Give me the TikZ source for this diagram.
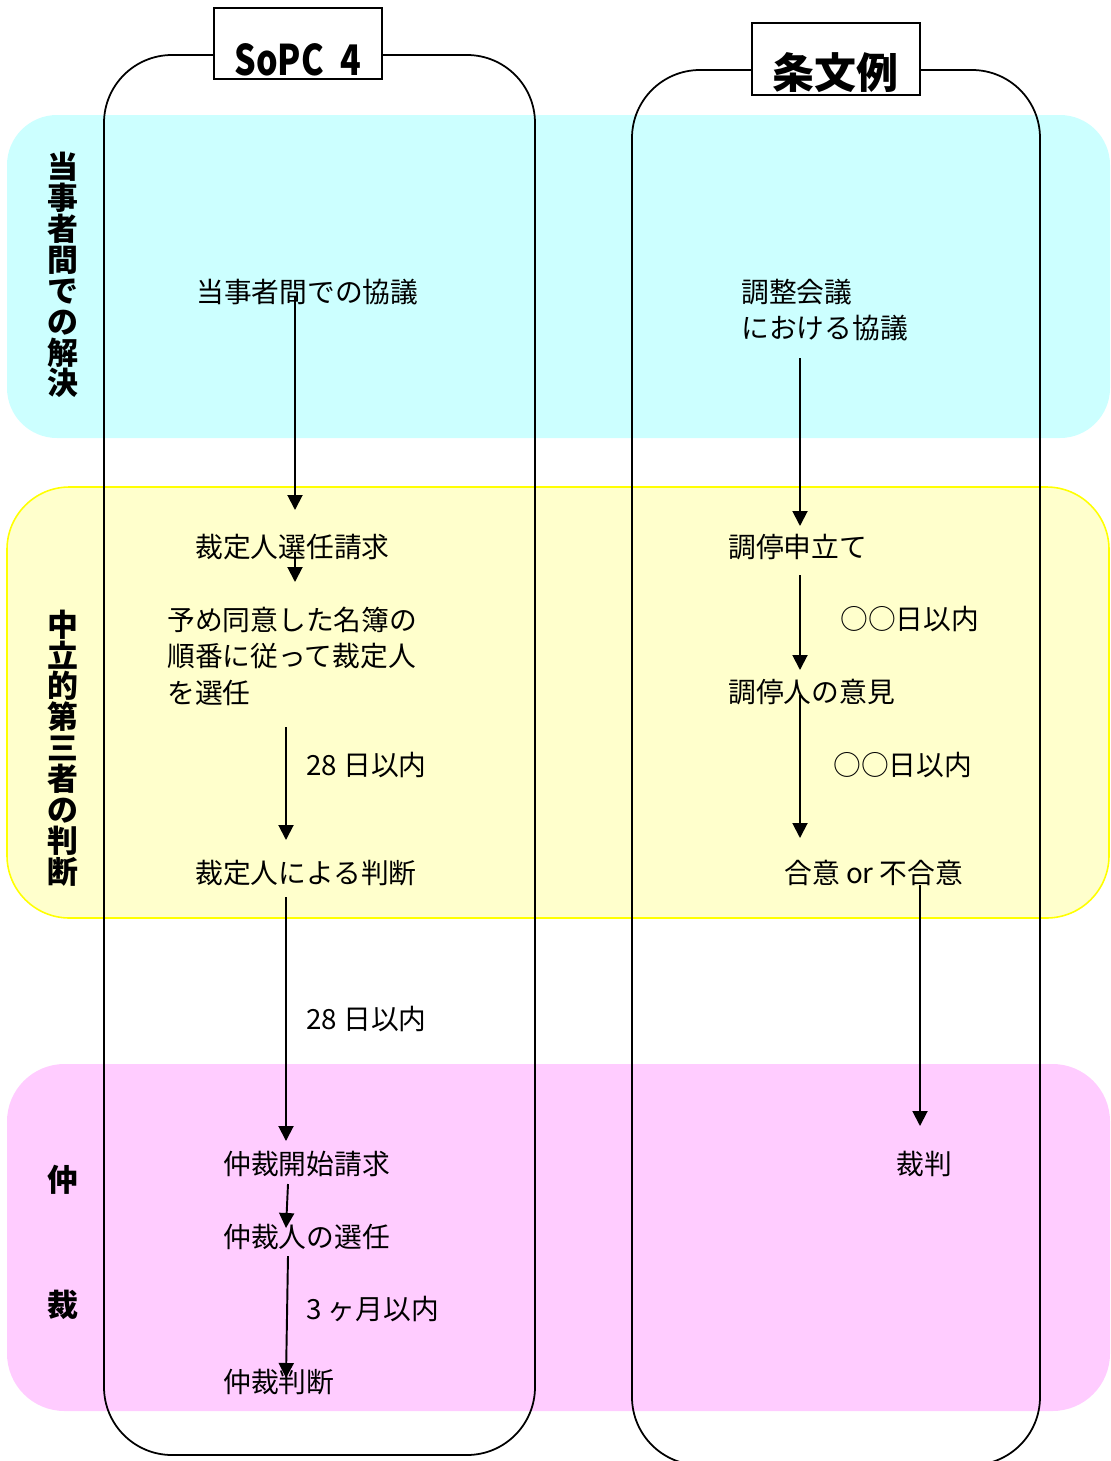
\documentclass[tikz,border=0pt]{standalone}
\usepackage{fontspec}
\setmainfont{Noto Sans CJK JP}
\usetikzlibrary{arrows.meta,calc}
\definecolor{bandcyan}{HTML}{CCFFFF}
\definecolor{bandyellow}{HTML}{FFFFCC}
\definecolor{edgeyellow}{HTML}{FFFF00}
\definecolor{bandpink}{HTML}{FFCCFF}
\begin{document}
\begin{tikzpicture}[x=0.02cm,y=-0.02cm,
  txt/.style={anchor=west,inner sep=0pt,font=\fontsize{15.8pt}{20.8pt}\selectfont,align=left},
  side/.style={inner sep=0pt,font=\bfseries\fontsize{17.6pt}{17.6pt}\selectfont,align=center},
  arr/.style={line width=1.1pt,-{Triangle[length=0.3cm,width=0.3cm]}},
  lane/.style={line width=1pt,rounded corners=1.36cm},
  titlebox/.style={draw,line width=1pt,fill=white,inner sep=0pt,minimum width=3.36cm}]
\clip (0,0) rectangle (1110,1461);
\useasboundingbox (0,0) rectangle (1110,1461);
% bands
\fill[bandcyan,rounded corners=1.0cm] (7,115) rectangle (1110,438);
\filldraw[fill=bandyellow,draw=edgeyellow,line width=0.9pt,rounded corners=1.25cm] (7,487) rectangle (1109,918);
\fill[bandpink,rounded corners=1.15cm] (7,1064) rectangle (1110,1411);
% lanes
\draw[lane] (104,55) rectangle (535,1455);
\draw[lane] (632,70) rectangle (1040,1465);
% titles
\node[titlebox,minimum height=1.42cm] (t1box) at (298,43.5) {};
\node[inner sep=0pt] (t1) at (298,60) {\resizebox{72.3pt}{18.2pt}{\fontsize{28pt}{28pt}\selectfont\bfseries SoPC\hspace{0.5em}4}};
\node[titlebox,minimum height=1.44cm] (t2box) at (836,59) {};
\node[inner sep=0pt,font=\bfseries\fontsize{23.9pt}{23.9pt}\selectfont] (t2) at (835,73) {条文例};
% side labels
\node[side] (s1) at (63,275) {当\\事\\者\\間\\で\\の\\解\\決};
\node[side] (s2) at (63,748) {中\\立\\的\\第\\三\\者\\の\\判\\断};
\node[side] (s3) at (63,1180) {仲};
\node[side] (s4) at (63,1305) {裁};
% left column
\node[txt] (n1) at (196,292) {当事者間での協議};
\node[txt] (n2) at (195,547) {裁定人選任請求};
\node[txt] (n3) at (167,656) {予め同意した名簿の\\順番に従って裁定人\\を選任};
\node[txt] (l1) at (306,765) {28 日以内};
\node[txt] (n4) at (195,873) {裁定人による判断};
\node[txt] (l2) at (306,1019) {28 日以内};
\node[txt] (n5) at (223,1164) {仲裁開始請求};
\node[txt] (n6) at (223,1237) {仲裁人の選任};
\node[txt] (l3) at (306,1309) {3 ヶ月以内};
\node[txt] (n7) at (223,1382) {仲裁判断};
% right column
\node[txt] (r1) at (741,310) {調整会議\\における協議};
\node[txt] (r2) at (728,547) {調停申立て};
\node[txt] (m1) at (840,619) {○○日以内};
\node[txt] (r3) at (728,692) {調停人の意見};
\node[txt] (m2) at (833,765) {○○日以内};
\node[txt] (r4) at (784,873) {合意 or 不合意};
\node[txt] (r5) at (896,1164) {裁判};
% arrows left
\draw[arr] ($(n1.west)+(99,5)$) -- ($(n2.west)+(100,-37)$);
\draw[arr] ($(n2.west)+(100,5)$) -- ($(n3.west)+(128,-74)$);
\draw[arr] ($(n3.west)+(119,71)$) -- ($(n4.west)+(91,-33)$);
\draw[arr] ($(n4.west)+(91,24)$) -- ($(n5.west)+(63,-23)$);
\draw[arr] ($(n5.west)+(65,20)$) -- ($(n6.west)+(63,-9)$);
\draw[arr] ($(n6.west)+(65,19)$) -- ($(n7.west)+(63,-4)$);
% arrows right
\draw[arr] ($(r1.west)+(59,48)$) -- ($(r2.west)+(72,-21)$);
\draw[arr] ($(r2.west)+(72,28)$) -- ($(r3.west)+(72,-22)$);
\draw[arr] ($(r3.west)+(72,3)$) -- ($(r4.west)+(16,-35)$);
\draw[arr] ($(r4.west)+(136,12)$) -- ($(r5.west)+(24,-38)$);
\end{tikzpicture}
\end{document}
